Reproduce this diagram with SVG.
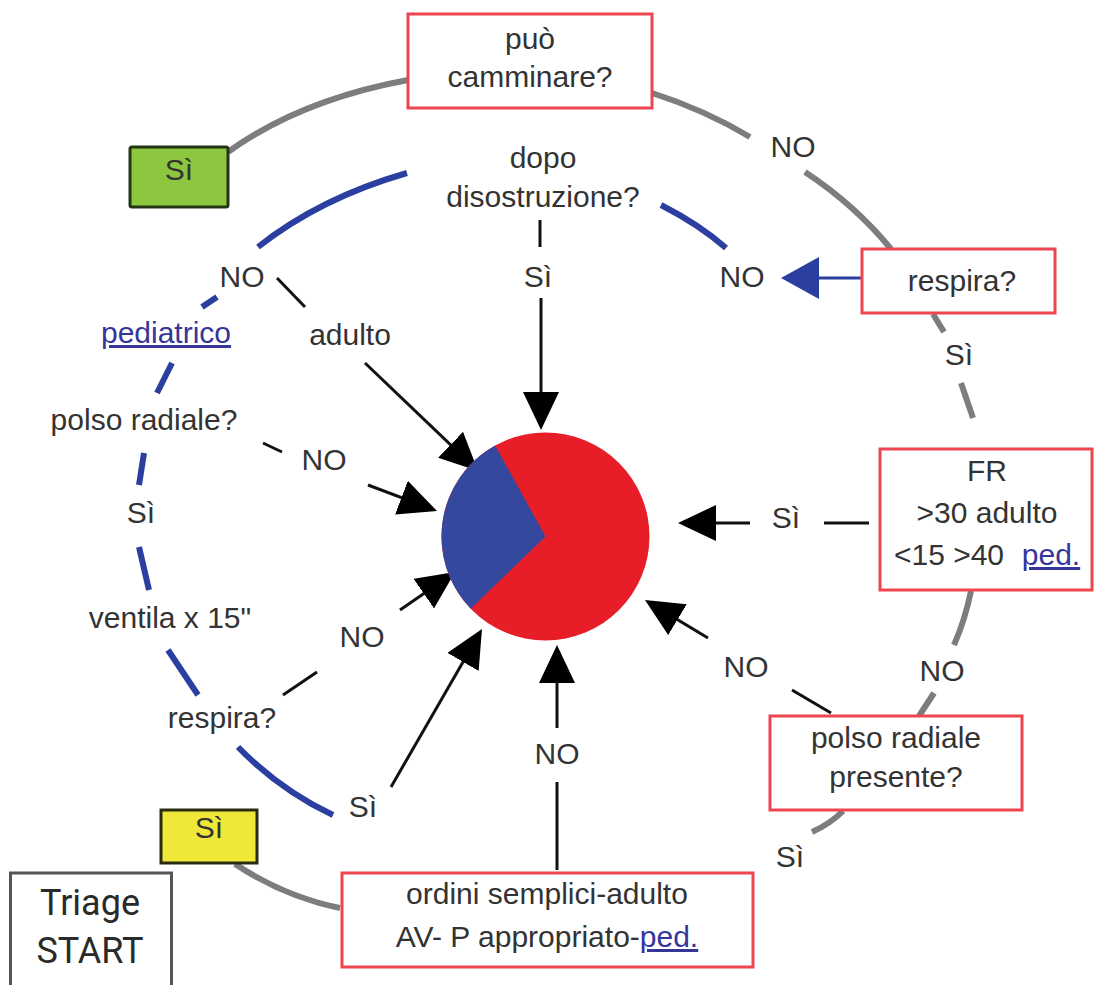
<svg xmlns="http://www.w3.org/2000/svg" width="1095" height="985" viewBox="0 0 1095 985">
<style>
text{font-family:"Liberation Sans",Arial,sans-serif;font-size:30px;fill:#333;text-anchor:middle}
.big{font-family:Roboto,"Liberation Sans",sans-serif;font-size:36px;fill:#2a2a2a}
.lnk{fill:#35359a;text-decoration:underline}
.rbox{fill:#fff;stroke:#ee4550;stroke-width:3}
.grey{fill:none;stroke:#7d7d80;stroke-width:6;stroke-linecap:butt}
.blue{fill:none;stroke:#2b3fa0;stroke-width:6;stroke-linecap:butt}
.blk{fill:none;stroke:#111;stroke-width:3}
.arr{fill:none;stroke:#111;stroke-width:3;marker-end:url(#ah)}
</style>
<defs>
<marker id="ah" markerUnits="userSpaceOnUse" markerWidth="40" markerHeight="36" refX="32" refY="18" orient="auto">
<path d="M0,0 L38,18 L0,36 z" fill="#000"/>
</marker>
<marker id="ahb" markerUnits="userSpaceOnUse" markerWidth="40" markerHeight="42" refX="32" refY="21" orient="auto">
<path d="M0,0 L38,21 L0,42 z" fill="#2b3fa0"/>
</marker>
</defs>

<g id="connectors">
<path class="grey" d="M228,152 Q300,100 408,80"/>
<path class="grey" d="M652,93 Q705,110 750,137"/>
<path class="grey" d="M805,172 Q855,205 891,249"/>
<path class="grey" d="M933,314 L944,332"/>
<path class="grey" d="M961,383 L973,418"/>
<path class="grey" d="M971,591 Q965,620 954,645"/>
<path class="grey" d="M934,693 L919,716"/>
<path class="grey" d="M843,811 Q830,824 812,832"/>
<path class="grey" d="M235,864 Q285,897 340,908"/>
<path class="blue" d="M258,247 Q320,198 407,173"/>
<path class="blue" d="M661,205 Q700,225 726,248"/>
<path class="blue" d="M202,307 L217,297"/>
<path class="blue" d="M157,393 L172,363"/>
<path class="blue" d="M139,485 L144,453"/>
<path class="blue" d="M139,547 L149,590"/>
<path class="blue" d="M168,650 L198,695"/>
<path class="blue" d="M238,747 Q280,790 333,815"/>
<path class="blk" d="M540,220 L540,247"/>
<path class="blk" d="M277,278 L305,307"/>
<path class="blk" d="M263,443 L282,452"/>
<path class="blk" d="M283,695 L317,672"/>
<path class="blk" d="M792,690 L831,713"/>
<path class="blk" d="M824,523 L869,523"/>
<path class="blk" d="M557,870 L557,782"/>
<path class="arr" d="M541,298 L541,424"/>
<path class="arr" d="M365,363 L473.7,466.9"/>
<path class="arr" d="M368,485 L431.4,508.9"/>
<path class="arr" d="M400,610 L450.1,575.4"/>
<path class="arr" d="M391,787 L479,634.2"/>
<path class="arr" d="M557,728 L557,651"/>
<path class="arr" d="M750,523 L684,523"/>
<path class="arr" d="M708,638 L650.1,603.1"/>
<path d="M862,278 L787,278" fill="none" stroke="#2b3fa0" stroke-width="3" marker-end="url(#ahb)"/>
</g>

<g id="pie">
<circle cx="545.5" cy="536.5" r="104" fill="#e71d27"/>
<path d="M545.5,536.5 L495.1,445.5 A104,104 0 0 0 470.7,608.7 Z" fill="#34499d"/>
</g>

<g id="puo">
<rect class="rbox" x="408" y="14" width="244" height="94"/>
<text x="530" y="49">può</text>
<text x="530" y="87">camminare?</text>
</g>

<g id="si-green">
<rect x="130" y="147" width="98" height="60" rx="2" fill="#8dc63f" stroke="#243514" stroke-width="3"/>
<text x="179" y="180">Sì</text>
</g>

<g id="dopo">
<text x="543" y="168">dopo</text>
<text x="543" y="207">disostruzione?</text>
</g>

<g id="lbl-si-top"><text x="538" y="287">Sì</text></g>
<g id="lbl-no-topleft"><text x="242" y="287">NO</text></g>
<g id="lbl-no-topright"><text x="793" y="157">NO</text></g>
<g id="lbl-no-blue"><text x="742" y="287">NO</text></g>

<g id="respira-box">
<rect class="rbox" x="862" y="249" width="193" height="64"/>
<text x="962" y="291">respira?</text>
</g>

<g id="lbl-si-right"><text x="959" y="365">Sì</text></g>

<g id="fr-box">
<rect class="rbox" x="880" y="449" width="212" height="141"/>
<text x="987" y="481">FR</text>
<text x="987" y="523">&gt;30 adulto</text>
<text x="949" y="565">&lt;15 &gt;40</text>
<text x="1051" y="565" class="lnk">ped.</text>
</g>

<g id="lbl-si-fr"><text x="786" y="528">Sì</text></g>

<g id="lbl-pediatrico"><text x="166" y="343" class="lnk">pediatrico</text></g>
<g id="lbl-adulto"><text x="350" y="345">adulto</text></g>
<g id="lbl-polso-q"><text x="144" y="430">polso radiale?</text></g>
<g id="lbl-no-polso"><text x="324" y="470">NO</text></g>
<g id="lbl-si-left"><text x="141" y="523">Sì</text></g>
<g id="lbl-ventila"><text x="170" y="628">ventila x 15"</text></g>
<g id="lbl-no-ventila"><text x="362" y="647">NO</text></g>
<g id="lbl-respira-left"><text x="222" y="728">respira?</text></g>
<g id="lbl-si-lowerleft"><text x="363" y="817">Sì</text></g>

<g id="lbl-no-polso2"><text x="746" y="677">NO</text></g>
<g id="lbl-no-ring"><text x="942" y="681">NO</text></g>

<g id="polso-box">
<rect class="rbox" x="770" y="716" width="252" height="94"/>
<text x="896" y="748">polso radiale</text>
<text x="896" y="787">presente?</text>
</g>

<g id="lbl-si-bottom"><text x="790" y="867">Sì</text></g>
<g id="lbl-no-vertical"><text x="557" y="764">NO</text></g>

<g id="si-yellow">
<rect x="161" y="810" width="96" height="53" fill="#efe838" stroke="#2a2a10" stroke-width="3"/>
<text x="209" y="838">Sì</text>
</g>

<g id="ordini-box">
<rect class="rbox" x="342" y="873" width="411" height="94"/>
<text x="547" y="904">ordini semplici-adulto</text>
<text x="547" y="947">AV- P appropriato-<tspan class="lnk">ped.</tspan></text>
</g>

<g id="triage">
<rect x="10.5" y="873" width="161" height="125" fill="#fff" stroke="#555" stroke-width="3"/>
<text x="90" y="915" class="big">Triage</text>
<text x="90" y="963" class="big">START</text>
</g>
</svg>
